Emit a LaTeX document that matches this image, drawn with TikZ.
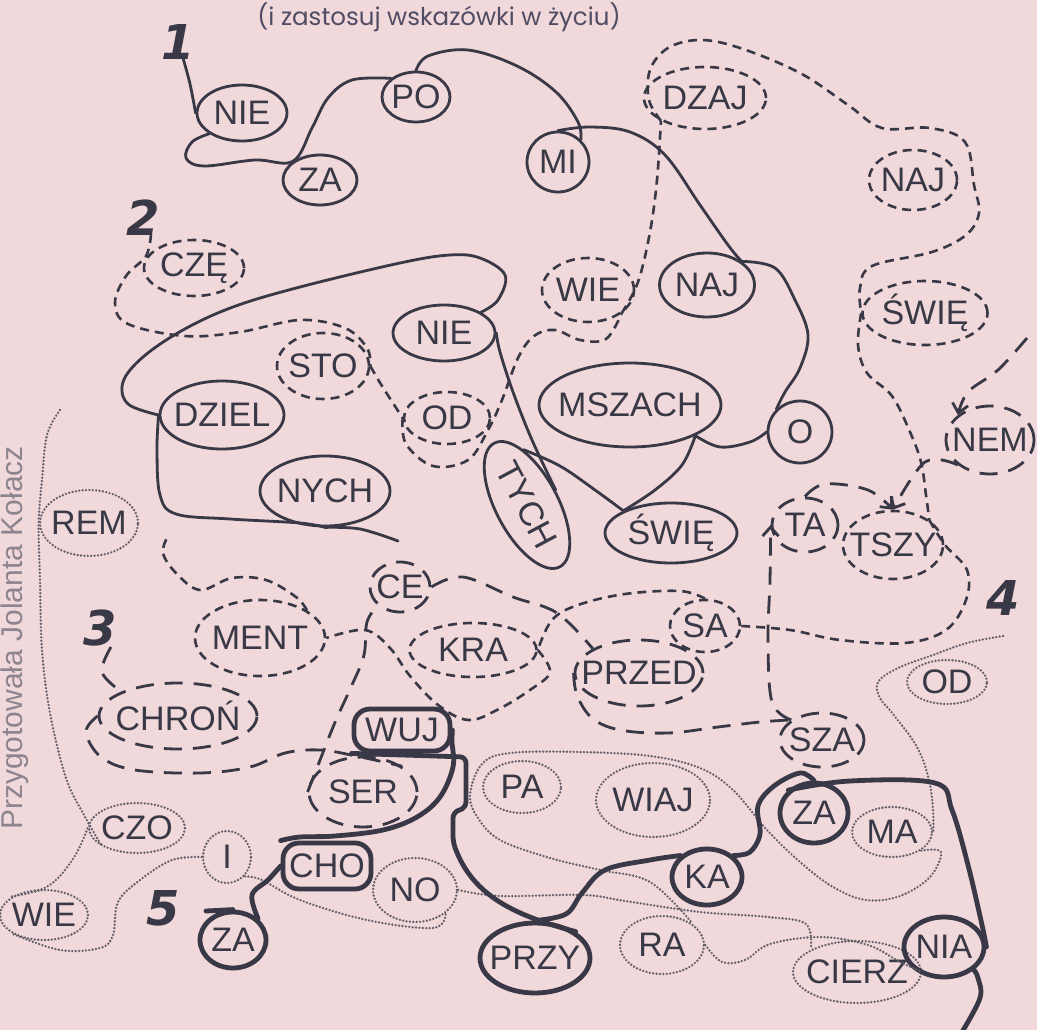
\documentclass[tikz,border=0pt]{standalone}
\usepackage{fontspec}
\setmainfont{Liberation Sans}
\newfontfamily\titlefont{Poppins}
\newfontfamily\numfont{DejaVu Sans}
\usetikzlibrary{arrows.meta,shapes.geometric}
\definecolor{paperPink}{RGB}{241,216,218}
\definecolor{inkGray}{RGB}{56,56,70}
\definecolor{dotGray}{RGB}{100,95,106}
\definecolor{titleGray}{RGB}{80,76,100}
\definecolor{creditGray}{RGB}{140,132,142}
\newcommand{\wordfont}{\fontsize{34}{34}\selectfont}
\tikzset{
  solidway/.style={draw=inkGray, line width=2.8pt, line cap=round},
  dashway/.style={draw=inkGray, line width=2.6pt, dash pattern=on 9pt off 6pt},
  longway/.style={draw=inkGray, line width=2.8pt, dash pattern=on 18pt off 11pt},
  dotway/.style={draw=dotGray, line width=2.6pt, line cap=round, dash pattern=on 0pt off 3.4pt},
  thickway/.style={draw=inkGray, line width=4.8pt, line cap=round, line join=round},
  wtext/.style={font=\wordfont, text=inkGray},
  wsolid/.style={ellipse, inner sep=0pt, solidway, label={[wtext]center:#1}},
  wdash/.style={ellipse, inner sep=0pt, dashway, label={[wtext]center:#1}},
  wlong/.style={ellipse, inner sep=0pt, longway, label={[wtext]center:#1}},
  wdot/.style={ellipse, inner sep=0pt, dotway, label={[wtext]center:#1}},
  wthick/.style={ellipse, inner sep=0pt, thickway, label={[wtext]center:#1}},
  bignum/.style={font=\numfont\fontsize{48}{48}\selectfont\bfseries\itshape, text=inkGray},
  headline/.style={font=\titlefont\fontsize{24.5}{24.5}\selectfont, text=titleGray},
  credit/.style={font=\fontsize{30}{30}\selectfont, text=creditGray},
  tip/.style={-{Straight Barb[length=9pt,width=16pt]}}
}

\begin{document}
\begin{tikzpicture}[x=1pt,y=-1pt]
  \fill[paperPink] (0,0) rectangle (1037,1030);
  \useasboundingbox (0,0) rectangle (1037,1030);
  \clip (0,0) rectangle (1037,1030);

  \node[headline] (title) at (439,17) {(i zastosuj wskazówki w życiu)};
  \node[credit, rotate=90, anchor=base] (author) at (23,638) {Przygotowała Jolanta Kołacz};
  \node[bignum] (n1) at (178,42) {1};
  \node[bignum] (n2) at (143,218) {2};
  \node[bignum] (n3) at (100,628) {3};
  \node[bignum] (n4) at (1003,598) {4};
  \node[bignum] (n5) at (163,908) {5};

  % 1
  \node[wsolid=NIE, minimum width=90, minimum height=56] (nieA) at (242,113) {};
  \node[wsolid=ZA, minimum width=74, minimum height=50] (zaA) at (320,180) {};
  \node[wsolid=PO, minimum width=68, minimum height=50] (po) at (416,97) {};
  \node[wsolid=MI, minimum width=62, minimum height=60] (mi) at (558,162) {};
  \node[wsolid=NAJ, minimum width=95, minimum height=64] (najA) at (707,285) {};
  \node[wsolid=O, minimum width=64, minimum height=62] (o) at (800,432) {};
  \node[wsolid=NIE, minimum width=102, minimum height=56] (nieB) at (444,333) {};
  \node[wsolid=DZIEL, minimum width=124, minimum height=68] (dziel) at (222,415) {};
  \node[wsolid=NYCH, minimum width=130, minimum height=70] (nych) at (325,491) {};
  \node[wsolid=MSZACH, minimum width=182, minimum height=84] (mszach) at (630,405) {};
  \node[wsolid=ŚWIĘ, minimum width=132, minimum height=60] (swieA) at (671,533) {};
  \node[ellipse, inner sep=0pt, solidway, wtext, rotate=-62, minimum width=140, minimum height=62] (tych) at (527,505) {TYCH};

  % 2
  \node[wdash=CZĘ, minimum width=100, minimum height=56] (cze) at (194,268) {};
  \node[wdash=STO, minimum width=92, minimum height=66] (sto) at (323,366) {};
  \node[wdash=OD, minimum width=86, minimum height=52] (odB) at (447,418) {};
  \node[wdash=WIE, minimum width=92, minimum height=64] (wieB) at (588,290) {};
  \node[wdash=DZAJ, minimum width=122, minimum height=62] (dzaj) at (705,98) {};
  \node[wdash=NAJ, minimum width=88, minimum height=60] (najB) at (913,180) {};
  \node[wdash=ŚWIĘ, minimum width=125, minimum height=64] (swieB) at (925,313) {};
  \node[wdash=TSZY, minimum width=100, minimum height=68] (tszy) at (893,545) {};
  \node[wdash=SA, minimum width=70, minimum height=52] (sa) at (705,626) {};
  \node[wdash=KRA, minimum width=127, minimum height=54] (kra) at (473,650) {};
  \node[wdash=MENT, minimum width=130, minimum height=76] (ment) at (260,638) {};

  % 3
  \node[wlong=CHROŃ, minimum width=158, minimum height=66] (chron) at (178,716) {};
  \node[wlong=SER, minimum width=108, minimum height=70] (ser) at (363,792) {};
  \node[wlong=CE, minimum width=60, minimum height=50] (ce) at (400,587) {};
  \node[wlong=PRZED, minimum width=128, minimum height=66] (przed) at (639,673) {};
  \node[wlong=SZA, minimum width=84, minimum height=54] (sza) at (822,740) {};
  \node[wlong=TA, minimum width=66, minimum height=54] (ta) at (805,525) {};
  \node[wlong=NEM, minimum width=88, minimum height=68] (nem) at (990,440) {};

  % 4
  \node[wdot=OD, minimum width=80, minimum height=44] (odD) at (947,682) {};
  \node[wdot=MA, minimum width=80, minimum height=50] (ma) at (892,832) {};
  \node[wdot=WIAJ, minimum width=114, minimum height=74] (wiaj) at (653,800) {};
  \node[wdot=RA, minimum width=84, minimum height=58] (ra) at (662,945) {};
  \node[wdot=NO, minimum width=84, minimum height=64] (no) at (415,890) {};
  \node[wdot=I, minimum width=48, minimum height=52] (iI) at (227,857) {};
  \node[wdot=WIE, minimum width=88, minimum height=50] (wieD) at (44,915) {};
  \node[wdot=CZO, minimum width=96, minimum height=50] (czo) at (137,828) {};
  \node[wdot=REM, minimum width=98, minimum height=66] (rem) at (89,523) {};
  \node[wdot=PA, minimum width=78, minimum height=52] (pa) at (522,787) {};
  \node[wdot=CIERZ, minimum width=128, minimum height=62] (cierz) at (857,972) {};

  % 5
  \node[wthick=ZA, minimum width=66, minimum height=56] (zaE) at (233,940) {};
  \node[wthick=CHO, rectangle, rounded corners=16pt, minimum width=88, minimum height=46] (cho) at (327,866) {};
  \node[wthick=WUJ, rectangle, rounded corners=16pt, minimum width=96, minimum height=42] (wuj) at (402,730) {};
  \node[wthick=PRZY, minimum width=110, minimum height=70] (przy) at (535,958) {};
  \node[wthick=KA, minimum width=70, minimum height=56] (ka) at (707,877) {};
  \node[wthick=ZA, minimum width=68, minimum height=60] (zaF) at (814,813) {};
  \node[wthick=NIA, minimum width=80, minimum height=60] (nia) at (944,947) {};

  \coordinate (oneStart) at (183,58);
  \coordinate (oneTail) at (398,541);
  \coordinate (twoStart) at (151,234);
  \coordinate (twoTail) at (168,536);
  \coordinate (threeStart) at (111,647);
  \coordinate (threeTop) at (1027,338);
  \coordinate (fourStart) at (1003,636);
  \coordinate (fourTop) at (60,410);
  \coordinate (fiveStart) at (206,911);
  \coordinate (fiveEnd) at (962,1032);

  \draw[solidway, smooth, tension=.6] plot coordinates {(oneStart) (190,84) (nieA.west)};
  \draw[solidway, smooth, tension=.6] plot coordinates {(nieA.south west) (192,142) (186,158) (204,166) (255,160) (zaA.north west) (312,128) (328,98) (352,80) (po.north west)};
  \draw[solidway, smooth, tension=.6] plot coordinates {(po.north) (428,56) (468,50) (517,66) (556,92) (578,122) (mi.north east)};
  \draw[solidway, smooth, tension=.6] plot coordinates {(mi.north) (590,127) (630,132) (665,155) (700,205) (728,245) (najA.north east)};
  \draw[solidway, smooth, tension=.6] plot coordinates {(najA.north east) (775,268) (795,300) (808,335) (800,368) (785,392) (o.north west)};
  \draw[solidway, smooth, tension=.6] plot coordinates {(o.west) (750,442) (720,447) (mszach.south east)};
  \draw[solidway, smooth, tension=.6] plot coordinates {(mszach.south east) (682,465) (655,490) (swieA.north west)};
  \draw[solidway, smooth, tension=.6] plot coordinates {(swieA.north west) (595,490) (560,466) (tych.north west)};
  \draw[solidway, smooth, tension=.6] plot coordinates {(nieB.east) (500,352) (513,392) (532,440) (tych.north)};
  \draw[solidway, smooth, tension=.6] plot coordinates {(nieB.north east) (498,300) (505,275) (480,258) (450,255) (400,263) (300,287) (233,307) (183,330) (143,357) (123,382) (128,404) (dziel.west)};
  \draw[solidway, smooth, tension=.6] plot coordinates {(dziel.west) (157,450) (160,495) (176,514) (230,519) (300,523) (nych.south)};
  \draw[solidway, smooth, tension=.6] plot coordinates {(nych.south) (360,529) (oneTail)};

  \draw[dashway, smooth, tension=.6] plot coordinates {(twoStart) (146,256) (126,276) (115,303) (128,324) (185,336) (240,332) (300,320) (345,328) (367,348) (sto.east)};
  \draw[dashway, smooth, tension=.6] plot coordinates {(sto.east) (382,386) (odB.west)};
  \draw[dashway, smooth, tension=.6] plot coordinates {(odB.west) (406,444) (433,466) (468,460) (488,430) (502,400) (518,358) (534,336) (555,330) (580,340) (606,339) (wieB.south east)};
  \draw[dashway, smooth, tension=.6] plot coordinates {(wieB.south east) (638,282) (650,232) (657,180) (dzaj.south west)};
  \draw[dashway, smooth, tension=.6] plot coordinates {(dzaj.south west) (649,100) (650,70) (668,48) (700,40) (740,48) (800,73) (848,105) (882,128) (930,128) (965,142) (974,185) (979,213) (966,235) (932,252) (872,266) (860,288) (swieB.west)};
  \draw[dashway, smooth, tension=.6] plot coordinates {(swieB.west) (858,345) (867,373) (892,396) (910,432) (921,462) (926,495) (tszy.north east)};
  \draw[dashway, smooth, tension=.6] plot coordinates {(tszy.north east) (945,545) (967,570) (966,600) (946,630) (905,643) (840,640) (790,630) (sa.east)};
  \draw[dashway, smooth, tension=.6] plot coordinates {(sa.north) (680,591) (625,594) (578,605) (552,620) (kra.east)};
  \draw[dashway, smooth, tension=.6] plot coordinates {(kra.east) (550,672) (530,690) (497,710) (468,720) (438,705) (410,676) (390,648) (365,630) (ment.east)};
  \draw[dashway, smooth, tension=.6] plot coordinates {(ment.north east) (296,597) (266,580) (232,578) (200,590) (176,573) (163,553) (twoTail)};

  \draw[longway, smooth, tension=.6] plot coordinates {(threeStart) (102,672) (chron.north west)};
  \draw[longway, smooth, tension=.6] plot coordinates {(chron.west) (86,732) (101,757) (135,770) (200,773) (250,767) (285,753) (320,750) (356,756) (ser.north east)};
  \draw[longway, smooth, tension=.6] plot coordinates {(ser.west) (322,755) (336,720) (352,685) (364,655) (367,622) (ce.south west)};
  \draw[longway, smooth, tension=.6] plot coordinates {(ce.east) (463,577) (513,597) (557,613) (przed.north west)};
  \draw[longway, smooth, tension=.6] plot coordinates {(przed.west) (577,695) (592,718) (620,730) (668,733) (718,727) (760,722) (sza.north west)};
  \draw[longway, tip, smooth, tension=.6] plot coordinates {(sza.north west) (772,702) (768,640) (770,580) (ta.west)};
  \draw[longway, tip, smooth, tension=.6] plot coordinates {(ta.north) (825,484) (868,490) (tszy.north)};
  \draw[longway, tip, smooth, tension=.6] plot coordinates {(nem.south west) (925,462) (tszy.north)};
  \draw[longway, tip, smooth, tension=.6] plot coordinates {(threeTop) (998,370) (968,392) (nem.north west)};

  \draw[dotway, smooth, tension=.6] plot coordinates {(fourStart) (967,643) (933,655) (898,668) (878,682) (880,698) (893,714) (917,747) (929,780) (933,810) (ma.east)};
  \draw[dotway, smooth, tension=.6] plot coordinates {(ma.south east) (941,852) (930,877) (900,896) (866,900) (833,887) (800,862) (767,830) (733,790) (700,768) (650,756) (580,752) (510,753) (482,764) (470,795) (478,818) (500,840) (550,858) (600,870) (650,882) (ra.north east)};
  \draw[dotway, smooth, tension=.6] plot coordinates {(ra.east) (722,962) (745,960) (770,944) (820,937) (868,945) (900,962) (cierz.east)};
  \draw[dotway, smooth, tension=.6] plot coordinates {(no.east) (500,896) (583,895) (625,901) (700,912) (768,917) (806,924) (cierz.north west)};
  \draw[dotway, smooth, tension=.6] plot coordinates {(iI.south east) (262,880) (300,900) (367,920) (433,928) (no.south east)};
  \draw[dotway, smooth, tension=.6] plot coordinates {(iI.west) (172,860) (140,880) (118,902) (113,935) (100,948) (60,950) (wieD.south west)};
  \draw[dotway, smooth, tension=.6] plot coordinates {(wieD.north west) (40,890) (58,878) (76,854) (czo.west)};
  \draw[dotway, smooth, tension=.6] plot coordinates {(fourTop) (47,435) (42,480) (rem.west) (40,580) (42,650) (50,713) (66,778) (84,815) (czo.south west)};

  \draw[thickway] (fiveStart) -- (zaE.north);
  \draw[thickway, smooth, tension=.6] plot coordinates {(zaE.north east) (252,895) (268,880) (cho.west)};
  \draw[thickway, smooth, tension=.6] plot coordinates {(cho.north west) (300,837) (335,836) (383,830) (417,817) (440,797) (453,767) (452,742) (wuj.east)};
  \draw[thickway, rounded corners=6pt] (wuj.south west) -- (466,757) -- (466,808) -- (453,812) -- (453,842) to[out=-70, in=165] (przy.north east);
  \draw[thickway, smooth, tension=.6] plot coordinates {(przy.north) (566,914) (582,893) (605,870) (650,860) (ka.north west)};
  \draw[thickway, smooth, tension=.6] plot coordinates {(ka.north east) (750,852) (760,834) (758,806) (774,786) (800,773) (zaF.north)};
  \draw[thickway, smooth, tension=.6] plot coordinates {(zaF.north west) (850,781) (935,783) (952,810) (968,865) (982,925) (nia.east)};
  \draw[thickway, smooth, tension=.6] plot coordinates {(nia.south east) (978,978) (980,998) (fiveEnd)};
\end{tikzpicture}
\end{document}
